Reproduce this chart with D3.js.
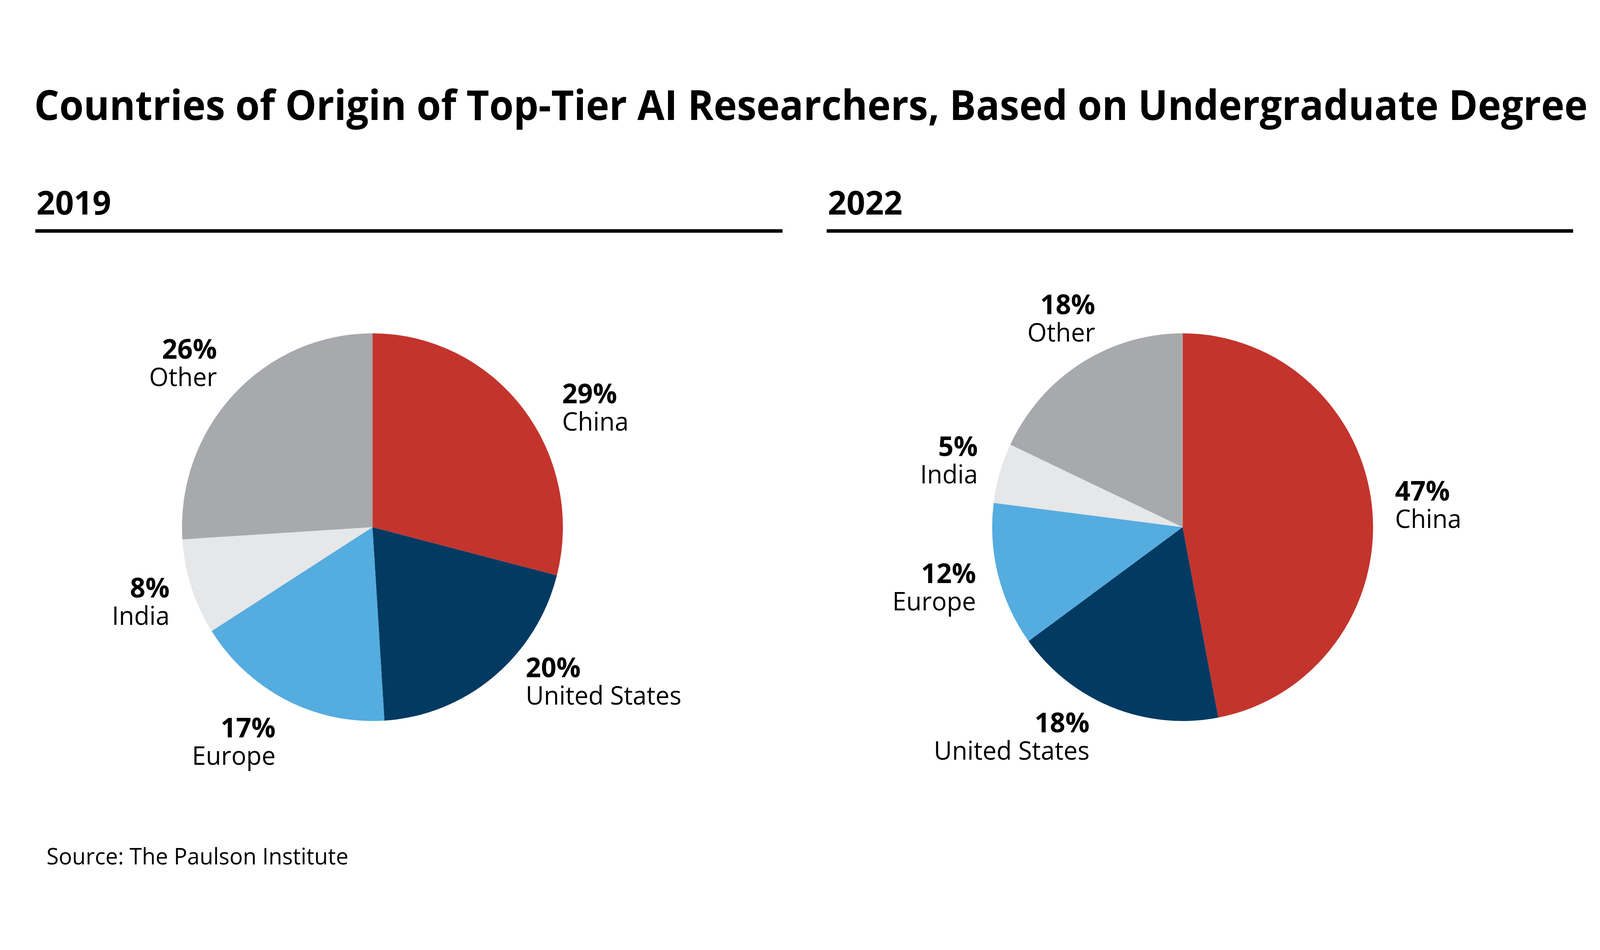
<!DOCTYPE html>
<html>
<head>
<meta charset="utf-8">
<script src="https://cdn.jsdelivr.net/npm/d3@7"></script>
<style>
  html, body { margin: 0; padding: 0; background: #fff; overflow: hidden; }
  #chart svg { display: block; width: 100vw; height: 100vh; }
  text { font-family: "Open Sans", "Noto Sans", sans-serif; fill: #000; }
</style>
</head>
<body>
<div id="chart"></div>
<script>
const W = 4167, H = 2431;

// data
const categories = ["China", "United States", "Europe", "India", "Other"];
const years = ["2019", "2022"];
const values2019 = [29, 20, 17, 8, 26];
const values2022 = [47, 18, 12, 5, 18];
const sliceColors = ["#c3342d", "#033a62", "#55acdf", "#e6e7e8", "#a7a9ac"];

const titleText = "Countries of Origin of Top-Tier AI Researchers, Based on Undergraduate Degree";
const sourceText = "Source: The Paulson Institute";

const radius = 496;
const labelRadius = radius * 1.12;
const titleWidth = 4046;

const color = d3.scaleOrdinal().domain(categories).range(sliceColors);

// window may be narrower than the drawing, so stretch the viewBox to fill it
const svg = d3.select("#chart").append("svg")
    .attr("viewBox", "0 0 " + W + " " + H)
    .attr("preserveAspectRatio", "none");

svg.append("rect").attr("width", W).attr("height", H).attr("fill", "#fff");

// title is squeezed to the width of the original (condensed face there)
const title = svg.append("text")
    .attr("font-size", 106)
    .attr("font-weight", 700)
    .text(titleText);
const natural = title.node().getComputedTextLength();
title.attr("transform", "translate(89,307) scale(" + Math.min(1, titleWidth / natural) + ",1)");

// panel layout, nudge = hand tweaks for the labels the original moved by hand
const panels = [
    {year: years[0], values: values2019, x0: 92, x1: 2038, cx: 970,
        nudge: {"China": [55, 70], "United States": [45, -80]}},
    {year: years[1], values: values2022, x0: 2153, x1: 4097, cx: 3080,
        nudge: {"United States": [-38, -37], "Other": [70, -15]}}
];
const cy = 1349;

const pie = d3.pie().sort(null).value(function(d) { return d.value; });
const arcPath = d3.arc().innerRadius(0).outerRadius(radius);

panels.forEach(function(p) {
    const g = svg.append("g");

    g.append("text")
        .attr("x", p.x0 + 3)
        .attr("y", 549)
        .attr("font-size", 85)
        .attr("font-weight", 700)
        .text(p.year);

    g.append("line")
        .attr("x1", p.x0).attr("x2", p.x1)
        .attr("y1", 591).attr("y2", 591)
        .attr("stroke", "#000")
        .attr("stroke-width", 9);

    const data = categories.map(function(c, i) { return {name: c, value: p.values[i]}; });
    const arcs = pie(data);

    const pg = g.append("g").attr("transform", "translate(" + p.cx + "," + cy + ")");

    pg.selectAll("path")
        .data(arcs)
        .enter().append("path")
        .attr("d", arcPath)
        .attr("fill", function(d) { return color(d.data.name); });

    const lab = pg.selectAll(".lab")
        .data(arcs)
        .enter().append("g")
        .attr("class", "lab")
        .attr("transform", function(d) {
            const mid = (d.startAngle + d.endAngle) / 2;
            const n = p.nudge[d.data.name] || [0, 0];
            const x = Math.sin(mid) * labelRadius + n[0];
            const y = -Math.cos(mid) * labelRadius;
            // push block up on top, down on bottom
            const by = y - Math.cos(mid) * 60 - 10 + n[1];
            return "translate(" + x + "," + by + ")";
        })
        .attr("text-anchor", function(d) {
            const mid = (d.startAngle + d.endAngle) / 2;
            return Math.sin(mid) > 0 ? "start" : "end";
        });

    lab.append("text")
        .attr("font-size", 70)
        .attr("font-weight", 700)
        .text(function(d) { return d.data.value + "%"; });

    lab.append("text")
        .attr("y", 70)
        .attr("font-size", 65)
        .text(function(d) { return d.data.name; });
});

svg.append("text")
    .attr("x", 121)
    .attr("y", 2212)
    .attr("font-size", 58)
    .text(sourceText);
</script>
</body>
</html>
